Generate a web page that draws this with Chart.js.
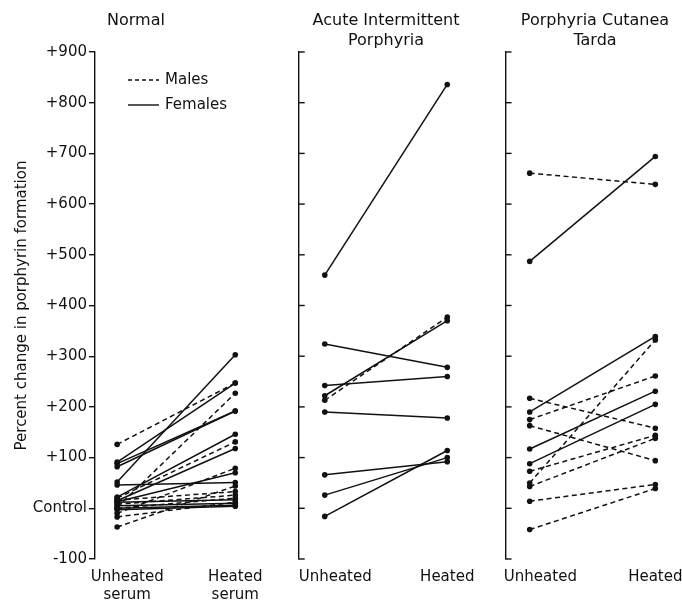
<!DOCTYPE html>
<html>
<head>
<meta charset="utf-8">
<script src="https://cdn.jsdelivr.net/npm/chart.js@4.4.1/dist/chart.umd.min.js"></script>
<style>
  html, body { margin: 0; padding: 0; background: #fff; overflow: hidden; }
  #wrap { position: relative; width: 682px; height: 601px; overflow: hidden; }
  canvas { position: absolute; top: 0; }
</style>
</head>
<body>
<div id="wrap">
  <canvas id="normal" width="272" height="601" style="left:0px;width:272px;height:601px"></canvas>
  <canvas id="aip" width="196" height="601" style="left:288px;width:196px;height:601px"></canvas>
  <canvas id="pct" width="204" height="601" style="left:493px;width:204px;height:601px"></canvas>
</div>
<script>
// Porcentaje de cambio en la formación de porfirinas: suero sin calentar vs calentado.

// Eje y y posiciones de las dos condiciones
const Y_MIN = -100;
const Y_MAX = 900;
const Y_STEP = 100;
const X_UNHEATED = 0;
const X_HEATED = 1;

// Normal
const normalMalesUnheated   = [126,   2,  20, -10, -37,  16,   8, -17,   0];
const normalMalesHeated     = [247, 227, 131,  79,  44,  33,  26,  12,  20];
const normalFemalesUnheated = [ 52,  91,  88,  82,  46,  22,  15,  13,  12,   5,   0,  -3];
const normalFemalesHeated   = [303, 247, 192, 192,  51, 146, 118,  70,  17,  10,   6,   4];

// Acute Intermittent Porphyria
const aipMalesUnheated   = [213];
const aipMalesHeated     = [377];
const aipFemalesUnheated = [460, 324, 242, 222, 190,  66,  26, -16];
const aipFemalesHeated   = [836, 278, 260, 370, 178,  92, 100, 114];

// Porphyria Cutanea Tarda
const pctMalesUnheated   = [661, 217, 175, 163,  73,  50,  43,  14, -42];
const pctMalesHeated     = [639, 158, 261,  94, 144, 332, 138,  47,  39];
const pctFemalesUnheated = [487, 190, 117,  88];
const pctFemalesHeated   = [694, 339, 231, 205];

// Textos
const panelTitles = {
  normal: "Normal",
  aip: ["Acute Intermittent", "Porphyria"],
  pct: ["Porphyria Cutanea", "Tarda"],
};
const normalXLabels = [["Unheated", "serum"], ["Heated", "serum"]];
const diseaseXLabels = ["Unheated", "Heated"];
const legendLabels = ["Males", "Females"];
const yTitle = "Percent change in porphyrin formation";

const INK = "#111";
const DASH = [5, 3.5];
const UNHEATED_LABEL_SHIFT = 0.085;
const FONT = '"DejaVu Sans", "Noto Sans", sans-serif';

Chart.defaults.font.family = FONT;
Chart.defaults.font.size = 15;
Chart.defaults.color = INK;

// Una serie por sujeto: dos puntos unidos por una línea.
function parejas(unheated, heated, dashed) {
  return unheated.map((u, i) => ({
    data: [{ x: X_UNHEATED, y: u }, { x: X_HEATED, y: heated[i] }],
    borderColor: INK,
    borderWidth: 1.5,
    borderDash: dashed ? DASH : [],
    pointRadius: 2.8,
    pointBackgroundColor: INK,
    pointBorderWidth: 0,
    fill: false,
    tension: 0,
  }));
}

function etiquetaY(v) {
  if (v === 0) return "Control";
  return v > 0 ? "+" + v : String(v);
}

// Marcas del eje hacia dentro (paneles de porfiria).
const marcasInternas = {
  id: "marcasInternas",
  afterDraw(chart) {
    const { ctx, chartArea, scales: { y } } = chart;
    ctx.save();
    ctx.strokeStyle = INK;
    ctx.lineWidth = 1.4;
    y.ticks.forEach((t) => {
      const py = y.getPixelForValue(t.value);
      ctx.beginPath();
      ctx.moveTo(chartArea.left, py);
      ctx.lineTo(chartArea.left + 6, py);
      ctx.stroke();
    });
    ctx.restore();
  },
};

// Leyenda dentro del área del gráfico (panel Normal).
const leyendaSexo = {
  id: "leyendaSexo",
  afterDraw(chart) {
    const { ctx, chartArea } = chart;
    const x0 = chartArea.left + 33;
    ctx.save();
    ctx.strokeStyle = INK;
    ctx.fillStyle = INK;
    ctx.lineWidth = 1.4;
    ctx.font = "15px " + FONT;
    ctx.textBaseline = "middle";
    legendLabels.forEach((label, i) => {
      const y = chartArea.top + 28 + i * 25;
      ctx.setLineDash(i === 0 ? [4, 3] : []);
      ctx.beginPath();
      ctx.moveTo(x0, y);
      ctx.lineTo(x0 + 31, y);
      ctx.stroke();
      ctx.setLineDash([]);
      ctx.fillText(label, x0 + 37, y);
    });
    ctx.restore();
  },
};

function crearPanel(id, cfg) {
  const yAxis = {
    min: Y_MIN,
    max: Y_MAX,
    ticks: { stepSize: Y_STEP, display: cfg.yLabels, callback: etiquetaY, padding: 2, color: INK },
    grid: { drawOnChartArea: false, drawTicks: cfg.yLabels, tickLength: 6, color: INK, lineWidth: 1.4 },
    border: { display: true, color: INK, width: 1.4 },
    title: {
      display: cfg.yLabels,
      text: yTitle,
      color: INK,
      font: { size: 15 },
      padding: { top: 13, bottom: 0 },
    },
    afterFit(s) { s.width = cfg.yWidth; },
  };
  return new Chart(document.getElementById(id), {
    type: "line",
    data: { datasets: cfg.datasets },
    options: {
      responsive: false,
      animation: false,
      layout: { padding: 0 },
      plugins: {
        legend: { display: false },
        tooltip: { enabled: false },
        title: {
          display: true,
          text: cfg.title,
          color: INK,
          font: { size: 16, weight: "normal", lineHeight: 1.3 },
          padding: { top: 10, bottom: cfg.titleBottom },
        },
      },
      scales: {
        x: {
          type: "linear",
          min: cfg.xMin,
          max: cfg.xMax,
          grid: { display: false, drawTicks: false },
          border: { display: false },
          ticks: {
            autoSkip: false,
            maxRotation: 0,
            padding: 9,
            color: INK,
            font: { size: 15, lineHeight: 1.2 },
            callback: (v, i) => cfg.xLabels[i],
          },
          afterBuildTicks(s) {
            s.ticks = [{ value: X_UNHEATED + UNHEATED_LABEL_SHIFT }, { value: X_HEATED }];
          },
          afterFit(s) { s.height = 42; },
        },
        y: yAxis,
      },
    },
    plugins: cfg.plugins,
  });
}

crearPanel("normal", {
  title: panelTitles.normal,
  titleBottom: 21.2,
  xMin: -0.1875,
  xMax: 1.195,
  yWidth: 95,
  yLabels: true,
  xLabels: normalXLabels,
  datasets: [
    ...parejas(normalMalesUnheated, normalMalesHeated, true),
    ...parejas(normalFemalesUnheated, normalFemalesHeated, false),
  ],
  plugins: [leyendaSexo],
});

crearPanel("aip", {
  title: panelTitles.aip,
  titleBottom: 0.4,
  xMin: -0.2126,
  xMax: 1.252,
  yWidth: 10,
  yLabels: false,
  xLabels: diseaseXLabels,
  datasets: [
    ...parejas(aipMalesUnheated, aipMalesHeated, true),
    ...parejas(aipFemalesUnheated, aipFemalesHeated, false),
  ],
  plugins: [marcasInternas],
});

crearPanel("pct", {
  title: panelTitles.pct,
  titleBottom: 0.4,
  xMin: -0.1923,
  xMax: 1.30,
  yWidth: 10,
  yLabels: false,
  xLabels: diseaseXLabels,
  datasets: [
    ...parejas(pctMalesUnheated, pctMalesHeated, true),
    ...parejas(pctFemalesUnheated, pctFemalesHeated, false),
  ],
  plugins: [marcasInternas],
});
</script>
</body>
</html>
